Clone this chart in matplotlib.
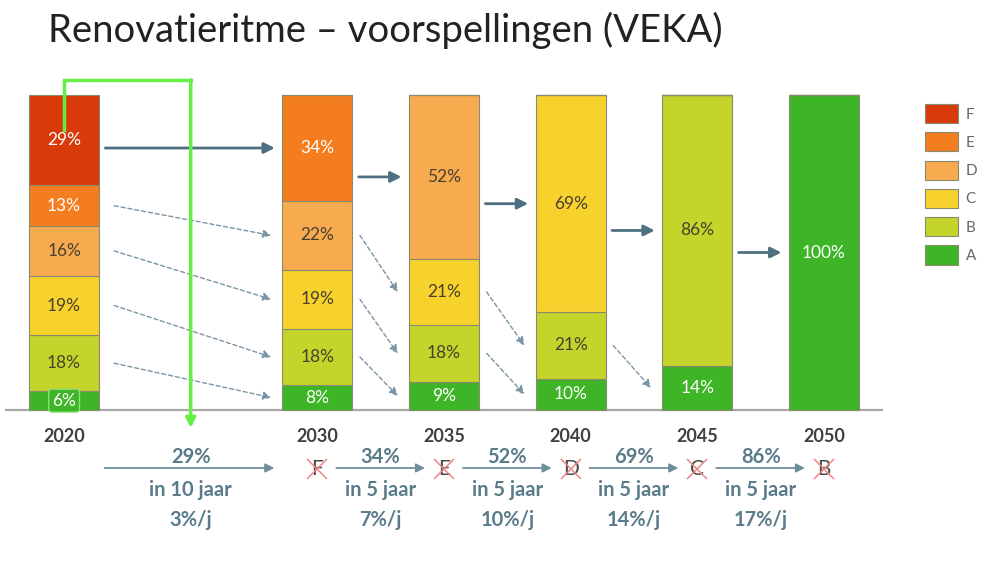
"""
Renovatieritme - voorspellingen (VEKA): stacked energy-label shares per year.
"""

import matplotlib
matplotlib.use("Agg")
import matplotlib.pyplot as plt

years = [2020, 2030, 2035, 2040, 2045, 2050]
classes = ["A", "B", "C", "D", "E", "F"]
share_a = [6, 8, 9, 10, 14, 100]
share_b = [18, 18, 18, 21, 86, 0]
share_c = [19, 19, 21, 69, 0, 0]
share_d = [16, 22, 52, 0, 0, 0]
share_e = [13, 34, 0, 0, 0, 0]
share_f = [29, 0, 0, 0, 0, 0]
shares = [share_a, share_b, share_c, share_d, share_e, share_f]

colors = ["#3db526", "#c5d42a", "#f8d22c", "#f7ab4e", "#f47d20", "#d93a0a"]
light_text = {"A", "E", "F"}

plt.rcParams["font.family"] = ["Lato", "DejaVu Sans"]

fig = plt.figure(figsize=(10, 5.62), dpi=100)
ax = fig.add_axes([0, 0, 1, 1])
ax.set_xlim(2017.47, 2056.95)
ax.set_ylim(-48.25, 130.16)
ax.set_axis_off()

width = 2.76
arrow_col = "#4f7080"
note_col = "#5a7b8a"

# rounded shares add up to 101 in some years; the bars are drawn full height
totals = [sum(col) for col in zip(*shares)]

# stacked bars
bottoms = [0] * len(years)
handles = []
mids = []  # per class, per year: middle of the segment (or None)
for cls, vals, col in zip(classes, shares, colors):
    heights = [v * 100 / t for v, t in zip(vals, totals)]
    bars = ax.bar(years, heights, width=width, bottom=bottoms, color=col,
                  edgecolor="#8a8a70", linewidth=0.8, label=cls, zorder=2)
    handles.append(bars)
    row = []
    for i, (yr, v, h) in enumerate(zip(years, vals, heights)):
        if v > 0:
            m = bottoms[i] + h / 2
            row.append(m)
            tc = "white" if cls in light_text else "#4a4030"
            box = None
            if i == 0 and cls == "A":
                box = dict(boxstyle="round,pad=0.2", fc=col, ec="#8ddf78", lw=1)
            ax.text(yr, m, f"{v}%", ha="center", va="center", fontsize=12.5,
                    color=tc, bbox=box, zorder=4)
        else:
            row.append(None)
    mids.append(row)
    bottoms = [b + h for b, h in zip(bottoms, heights)]

# baseline and year labels
ax.plot([2017.7, 2052.3], [0, 0], color="#a8a8a8", lw=1.6, zorder=1)
for yr in years:
    ax.text(yr, -8.3, str(yr), ha="center", va="center", fontsize=13,
            fontweight="bold", color="#404040")

# worst class per year (top segment index)
worst = [max(k for k in range(len(classes)) if shares[k][i] > 0)
         for i in range(len(years))]

for i in range(len(years) - 1):
    x0, x1 = years[i], years[i + 1]
    w = worst[i]
    # solid arrow from the worst class into the next bar
    ys = mids[worst[i + 1]][i + 1]
    ax.annotate("", xy=(x1 - width / 2 - 0.3, ys), xytext=(x0 + width / 2 + 0.25, ys),
                arrowprops=dict(arrowstyle="-|>", color=arrow_col, lw=2,
                                mutation_scale=16, shrinkA=0, shrinkB=0), zorder=3)
    # dashed arrows: one class better
    for k in range(1, w):
        y_from = mids[k][i]
        y_to = mids[k - 1][i + 1]
        if y_from is None or y_to is None:
            continue
        xs = x0 + width / 2 + (0.6 if i == 0 else 0.3)
        xe = x1 - width / 2 - 0.45
        ax.annotate("", xy=(xe, y_to), xytext=(xs, y_from),
                    arrowprops=dict(arrowstyle="-|>", color="#7a95a5", lw=1,
                                    linestyle=(0, (3, 2)), mutation_scale=12,
                                    shrinkA=0, shrinkB=0), zorder=3)

    # bottom notes
    val = shares[w][i]
    period = x1 - x0
    xm = (x0 + x1) / 2
    if i == 0:
        xs_n, xe_n = x0 + 1.6, x1 - 1.7
    else:
        xs_n, xe_n = x0 + 0.75, x1 - 0.75
    ax.annotate("", xy=(xe_n, -18.4), xytext=(xs_n, -18.4),
                arrowprops=dict(arrowstyle="-|>", color="#6e8e9c", lw=1.3,
                                mutation_scale=13, shrinkA=0, shrinkB=0))
    ax.text(xm, -15.0, f"{val}%", ha="center", va="center", fontsize=14.5,
            fontweight="bold", color=note_col)
    ax.text(xm, -25.4, f"in {period} jaar", ha="center", va="center", fontsize=14.5,
            fontweight="bold", color=note_col)
    ax.text(xm, -34.9, f"{round(val / period)}%/j", ha="center", va="center",
            fontsize=14.5, fontweight="bold", color=note_col)
    # crossed-out class at the next year
    ax.text(x1, -18.8, classes[w], ha="center", va="center", fontsize=15,
            color="#4a4a4a")
    ax.plot([x1], [-18.6], marker="x", markersize=14, markeredgewidth=1.1,
            color="#f08585", zorder=5)

# green highlight line
gx1 = (years[0] + years[1]) / 2
ax.plot([years[0], years[0], gx1], [88.9, 104.8, 104.8], color="#66ee44",
        lw=2.5, solid_joinstyle="miter", zorder=5)
ax.annotate("", xy=(gx1, -5.7), xytext=(gx1, 104.8),
            arrowprops=dict(arrowstyle="-|>", color="#66ee44", lw=2.5,
                            mutation_scale=14, shrinkA=0, shrinkB=0), zorder=5)

# legend
fig.legend(handles=handles[::-1], labels=classes[::-1], loc="upper left",
           bbox_to_anchor=(0.925, 0.815), frameon=False, fontsize=11,
           handlelength=2.15, handleheight=1.55, labelspacing=0.6,
           handletextpad=0.5, borderpad=0, borderaxespad=0, labelcolor="#666666")

fig.text(0.048, 0.945, "Renovatieritme \u2013 voorspellingen (VEKA)", ha="left",
         va="center", fontsize=27.5, fontweight="normal", color="#222222")

fig.savefig("out.png", dpi=100)
